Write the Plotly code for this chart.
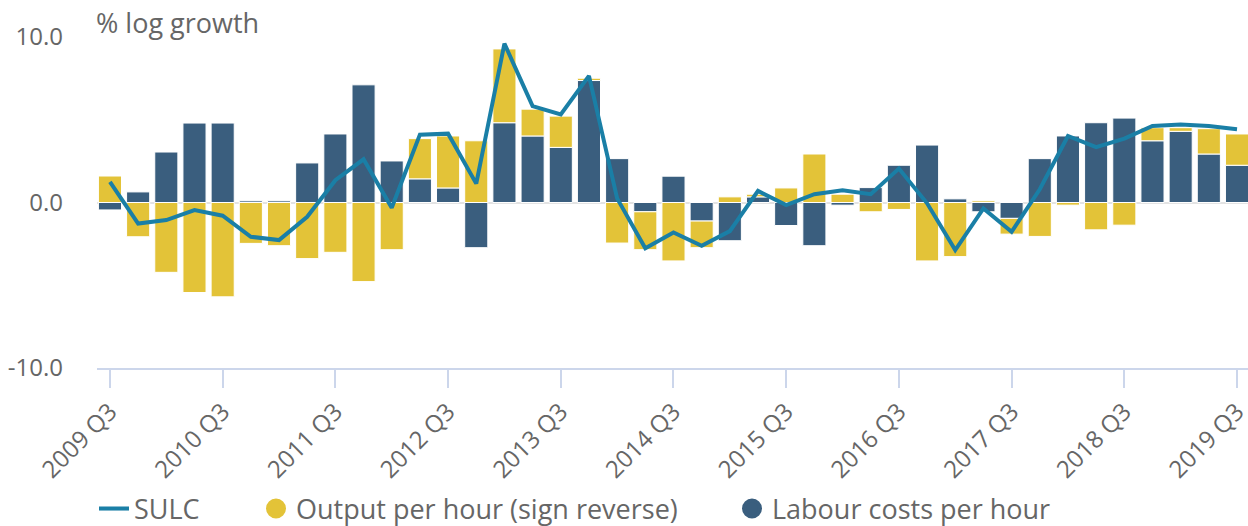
import plotly.graph_objects as go

quarters = [f"{y} Q{q}" for y in range(2009, 2020) for q in range(1, 5)][2:43]

labour_costs = [-0.45, 0.64, 3.05, 4.8, 4.8, 0.1, 0.1, 2.39, 4.14, 7.11,
                2.51, 1.43, 0.88, -2.73, 4.82, 4.02, 3.33, 7.37, 2.65, -0.56,
                1.59, -1.12, -2.31, 0.34, -1.39, -2.61, -0.16, 0.9, 2.25, 3.47,
                0.22, -0.56, -0.96, 2.65, 4.02, 4.82, 5.10, 3.73, 4.30, 2.93, 2.25]

output_rev = [1.6, -2.07, -4.22, -5.44, -5.70, -2.47, -2.61, -3.39, -3.01, -4.78,
              -2.85, 2.43, 3.14, 3.73, 4.46, 1.62, 1.89, 0.14, -2.45, -2.29,
              -3.53, -1.61, 0.34, 0.16, 0.88, 2.93, 0.5, -0.56, -0.42, -3.53,
              -3.27, 0.1, -0.95, -2.05, -0.16, -1.65, -1.37, 0.79, 0.22, 1.53, 1.89]

sulc = [1.24, -1.27, -1.06, -0.46, -0.8, -2.07, -2.27, -0.86, 1.35, 2.61,
        -0.32, 4.1, 4.16, 1.14, 9.6, 5.82, 5.32, 7.65, 0.25, -2.77,
        -1.81, -2.61, -1.73, 0.70, -0.16, 0.50, 0.74, 0.5, 2.05, -0.05,
        -2.87, -0.36, -1.77, 0.8, 4.02, 3.35, 3.86, 4.62, 4.72, 4.62, 4.42]

tick_labels = quarters[::4]
y_tick_vals = [-10, 0, 10]
y_tick_text = ["-10.0", "0.0", "10.0"]

YELLOW = "#E3C338"
BLUE = "#3A5E7E"
LINE = "#1A7FA6"
GREY = "#666666"

fig = go.Figure()
fig.add_trace(go.Bar(x=quarters, y=labour_costs, marker=dict(color=BLUE, line=dict(color="white", width=1)),
                     name="Labour costs per hour", showlegend=False))
fig.add_trace(go.Bar(x=quarters, y=output_rev, marker=dict(color=YELLOW, line=dict(color="white", width=1)),
                     name="Output per hour (sign reverse)", showlegend=False))
fig.add_trace(go.Scatter(x=quarters, y=sulc, mode="lines", line=dict(color=LINE, width=4),
                         name="SULC", legend="legend"))
# legend-only markers
fig.add_trace(go.Scatter(x=[None], y=[None], mode="markers",
                         marker=dict(color=YELLOW, size=16, symbol="circle", line=dict(color=YELLOW, width=4)),
                         name="Output per hour (sign reverse)", legend="legend2"))
fig.add_trace(go.Scatter(x=[None], y=[None], mode="markers",
                         marker=dict(color=BLUE, size=16, symbol="circle", line=dict(color=BLUE, width=4)),
                         name="Labour costs per hour", legend="legend3"))

legend_common = dict(orientation="h", xref="container", yref="container", yanchor="middle",
                     xanchor="left", font=dict(size=27, color=GREY, family="Open Sans"),
                     bgcolor="rgba(0,0,0,0)", borderwidth=0, itemsizing="trace")

fig.update_layout(
    width=1248, height=526,
    margin=dict(l=97, r=0, t=37, b=158),
    paper_bgcolor="white", plot_bgcolor="white",
    font=dict(family="Open Sans", color=GREY),
    barmode="relative", bargap=0.18,
    legend=dict(x=94 / 1248, y=1 - 509 / 526, **legend_common),
    legend2=dict(x=256 / 1248, y=1 - 509 / 526, **legend_common),
    legend3=dict(x=732 / 1248, y=1 - 509 / 526, **legend_common),
    xaxis=dict(type="category", range=[-0.46, 40.39], tickmode="array", tickvals=tick_labels,
               ticktext=tick_labels, tickangle=-45, tickfont=dict(size=24, color=GREY),
               showline=True, linecolor="#ccd6eb", linewidth=2, ticks="outside", ticklen=18,
               tickcolor="#ccd6eb", tickwidth=2, showgrid=False, zeroline=False, automargin=False),
    yaxis=dict(range=[-10, 10], tickmode="array", tickvals=y_tick_vals, ticktext=y_tick_text,
               tickfont=dict(size=24, color=GREY), showgrid=True, gridcolor="#e3e3e3", gridwidth=2,
               zeroline=False, ticks="", ticklabelstandoff=33, automargin=False),
    annotations=[dict(text="% log growth", xref="paper", x=0, xanchor="left", xshift=-3, yref="paper",
                      y=1, yanchor="middle", yshift=15, showarrow=False,
                      font=dict(size=27, color=GREY))],
)

fig.write_html("out.html", config={"displayModeBar": False},
               post_script="document.body.style.margin='0';document.body.style.overflow='hidden';")
